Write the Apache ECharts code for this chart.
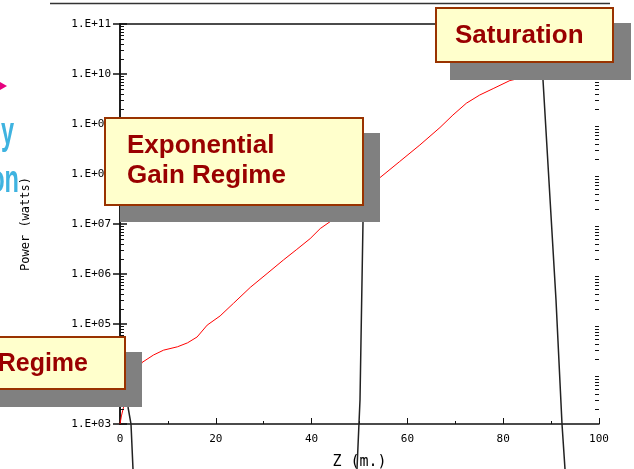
<!DOCTYPE html>
<html>
<head>
<meta charset="utf-8">
<script src="https://cdn.jsdelivr.net/npm/echarts@6/dist/echarts.min.js"></script>
<style>
  html, body { margin: 0; padding: 0; background: #ffffff; }
  #chart { width: 634px; height: 469px; }
</style>
</head>
<body>
<div id="chart"></div>
<script>
// Distance along the undulator (m) and radiated power (W)
const zPositions = [0.0, 0.3, 0.7, 4.6, 7.0, 9.1, 12.0, 14.1, 16.1, 18.2, 20.9, 23.7, 27.2, 30.7,
  34.1, 36.9, 39.7, 41.8, 43.9, 49.0, 54.3, 58.4, 62.6, 66.8, 69.5, 72.3, 75.1, 77.9, 81.4,
  86.0, 92.0, 100.0];
const powerWatts = [1.0e3, 1.45e3, 2.1e3, 1.7e4, 2.4e4, 3.0e4, 3.5e4, 4.2e4, 5.5e4, 9.5e4, 1.45e5,
  2.6e5, 5.4e5, 1.02e6, 1.9e6, 3.1e6, 5.1e6, 8.1e6, 1.12e7, 3.2e7, 8.5e7, 1.78e8, 3.8e8, 8.5e8,
  1.51e9, 2.6e9, 3.8e9, 5.1e9, 7.4e9, 9.3e9, 1.1e10, 1.26e10];

// Decade tick labels of the power axis, keyed by exponent
const yTickLabels = { 3: '1.E+03', 4: '1.E+04', 5: '1.E+05', 6: '1.E+06', 7: '1.E+07',
  8: '1.E+08', 9: '1.E+09', 10: '1.E+10', 11: '1.E+11' };
const xTickLabels = ['0', '20', '40', '60', '80', '100'];

const regimeLabels = ['Regime', 'Exponential', 'Gain Regime', 'Saturation'];

const chart = echarts.init(document.getElementById('chart'), null, { renderer: 'canvas' });

const tickFont = { fontFamily: 'DejaVu Sans Mono', fontSize: 11, color: '#000' };
const axisLine = { show: true, lineStyle: { color: '#111', width: 1.5 } };

const boxFill = '#ffffcc';
const boxStroke = '#993300';
const boxText = '#990000';
const shadowFill = '#808080';
const boxFont = 'bold 26px "Liberation Sans", Arial, sans-serif';
const logoFont = 'bold 38px "Liberation Sans", Arial, sans-serif';

const graphics = [
  // slide header rule
  { id: 'rule', type: 'line', z: 1, shape: { x1: 50, y1: 3.5, x2: 610, y2: 3.5 },
    style: { stroke: '#333', lineWidth: 1.5 } },
  // logo fragments at the left edge
  { id: 'arrow', type: 'polygon', z: 1, shape: { points: [[0, 82], [7, 86], [0, 90]] },
    style: { fill: '#e6007e' } },
  { id: 'logo1', type: 'text', z: 1, x: 14, y: 134, scaleX: 0.62,
    style: { text: 'y', font: logoFont, fill: '#3fb3e0', align: 'right', verticalAlign: 'middle' } },
  { id: 'logo2', type: 'text', z: 1, x: 19, y: 182, scaleX: 0.62,
    style: { text: 'on', font: logoFont, fill: '#3fb3e0', align: 'right', verticalAlign: 'middle' } },
  // leader lines from the call-outs
  { id: 'lead1', type: 'polyline', z: 50, shape: { points: [[128, 407], [131, 424], [133, 469]] },
    style: { stroke: '#222', lineWidth: 1.5, fill: null } },
  { id: 'lead2', type: 'polyline', z: 50, shape: { points: [[363, 222], [361, 340], [360, 400], [357, 469]] },
    style: { stroke: '#222', lineWidth: 1.5, fill: null } },
  { id: 'lead3', type: 'polyline', z: 50, shape: { points: [[543, 80], [556, 300], [562, 424], [565, 469]] },
    style: { stroke: '#222', lineWidth: 1.5, fill: null } },
  // start-up call-out
  { id: 'sh1', type: 'rect', z: 60, shape: { x: -20, y: 352, width: 162, height: 55 },
    style: { fill: shadowFill } },
  { id: 'bx1', type: 'rect', z: 61, shape: { x: -20, y: 337, width: 145, height: 52 },
    style: { fill: boxFill, stroke: boxStroke, lineWidth: 2 } },
  { id: 'tx1', type: 'text', z: 62, x: 88, y: 364,
    style: { text: regimeLabels[0], font: 'bold 25px "Liberation Sans", Arial, sans-serif',
      fill: boxText, align: 'right', verticalAlign: 'middle' } },
  // exponential gain call-out
  { id: 'sh2', type: 'rect', z: 60, shape: { x: 120, y: 133, width: 260, height: 89 },
    style: { fill: shadowFill } },
  { id: 'bx2', type: 'rect', z: 61, shape: { x: 105, y: 118, width: 258, height: 87 },
    style: { fill: boxFill, stroke: boxStroke, lineWidth: 2 } },
  { id: 'tx2', type: 'text', z: 62, x: 127, y: 146,
    style: { text: regimeLabels[1], font: boxFont, fill: boxText, align: 'left', verticalAlign: 'middle' } },
  { id: 'tx3', type: 'text', z: 62, x: 127, y: 176,
    style: { text: regimeLabels[2], font: boxFont, fill: boxText, align: 'left', verticalAlign: 'middle' } },
  // saturation call-out
  { id: 'sh3', type: 'rect', z: 60, shape: { x: 450, y: 23, width: 181, height: 57 },
    style: { fill: shadowFill } },
  { id: 'bx3', type: 'rect', z: 61, shape: { x: 436, y: 8, width: 177, height: 54 },
    style: { fill: boxFill, stroke: boxStroke, lineWidth: 2 } },
  { id: 'tx4', type: 'text', z: 62, x: 455, y: 36,
    style: { text: regimeLabels[3], font: boxFont, fill: boxText, align: 'left', verticalAlign: 'middle' } }
];

const option = {
  animation: false,
  backgroundColor: '#ffffff',
  grid: { left: 120, right: 35, top: 24, bottom: 45, containLabel: false, outerBoundsMode: 'none' },
  xAxis: [
    {
      type: 'value', position: 'bottom', min: 0, max: 100, interval: 20,
      name: 'Z (m.)', nameLocation: 'middle', nameGap: 31,
      nameTextStyle: { fontFamily: 'DejaVu Sans Mono', fontSize: 15, color: '#000' },
      axisLine: axisLine,
      axisTick: { show: true, inside: true, length: 6, lineStyle: { color: '#111', width: 1 } },
      minorTick: { show: true, splitNumber: 2, length: 3, lineStyle: { color: '#111', width: 1 } },
      axisLabel: Object.assign({ margin: 10,
        formatter: (v) => xTickLabels[Math.round(v / 20)] }, tickFont),
      splitLine: { show: false }
    },
    {
      type: 'value', position: 'top', min: 0, max: 100,
      axisLine: axisLine, axisTick: { show: false }, axisLabel: { show: false },
      splitLine: { show: false }
    }
  ],
  yAxis: [
    {
      type: 'log', logBase: 10, min: 1e3, max: 1e11, splitNumber: 8, position: 'left',
      name: 'Power (watts)', nameLocation: 'middle', nameGap: 88, nameRotate: 90,
      nameTextStyle: { fontFamily: 'DejaVu Sans Mono', fontSize: 12, color: '#000' },
      axisLine: axisLine,
      axisTick: { show: true, inside: true, length: 7, lineStyle: { color: '#111', width: 1.5 } },
      axisLabel: Object.assign({ margin: 9,
        formatter: (v) => yTickLabels[Math.round(Math.log10(v))] || '' }, tickFont),
      splitLine: { show: false }
    },
    {
      type: 'log', logBase: 10, min: 1e3, max: 1e11, splitNumber: 8, position: 'right',
      axisLine: axisLine,
      axisTick: { show: true, inside: true, length: 7, lineStyle: { color: '#111', width: 1.5 } },
      axisLabel: { show: false },
      splitLine: { show: false }
    }
  ],
  series: [
    {
      type: 'line', xAxisIndex: 0, yAxisIndex: 0, z: 3,
      data: zPositions.map((z, i) => [z, powerWatts[i]]),
      showSymbol: false, smooth: false,
      lineStyle: { color: '#ff0000', width: 1 }
    }
  ],
  graphic: graphics
};

chart.setOption(option);

// log-decade minor ticks (2..9 x 10^n) placed through the power axis scale
const minorTicks = [];
const xLeft = chart.convertToPixel({ xAxisIndex: 0 }, 0);
const xRight = chart.convertToPixel({ xAxisIndex: 0 }, 100);
let n = 0;
for (let e = 3; e < 11; e++) {
  for (let k = 2; k <= 9; k++) {
    const py = Math.round(chart.convertToPixel({ yAxisIndex: 0 }, k * Math.pow(10, e))) + 0.5;
    minorTicks.push({ id: 'mtl' + n, type: 'line', z: 5,
      shape: { x1: xLeft, y1: py, x2: xLeft + 4, y2: py }, style: { stroke: '#111', lineWidth: 1 } });
    minorTicks.push({ id: 'mtr' + n, type: 'line', z: 5,
      shape: { x1: xRight - 4, y1: py, x2: xRight, y2: py }, style: { stroke: '#111', lineWidth: 1 } });
    n++;
  }
}
chart.setOption({ graphic: minorTicks });
</script>
</body>
</html>
